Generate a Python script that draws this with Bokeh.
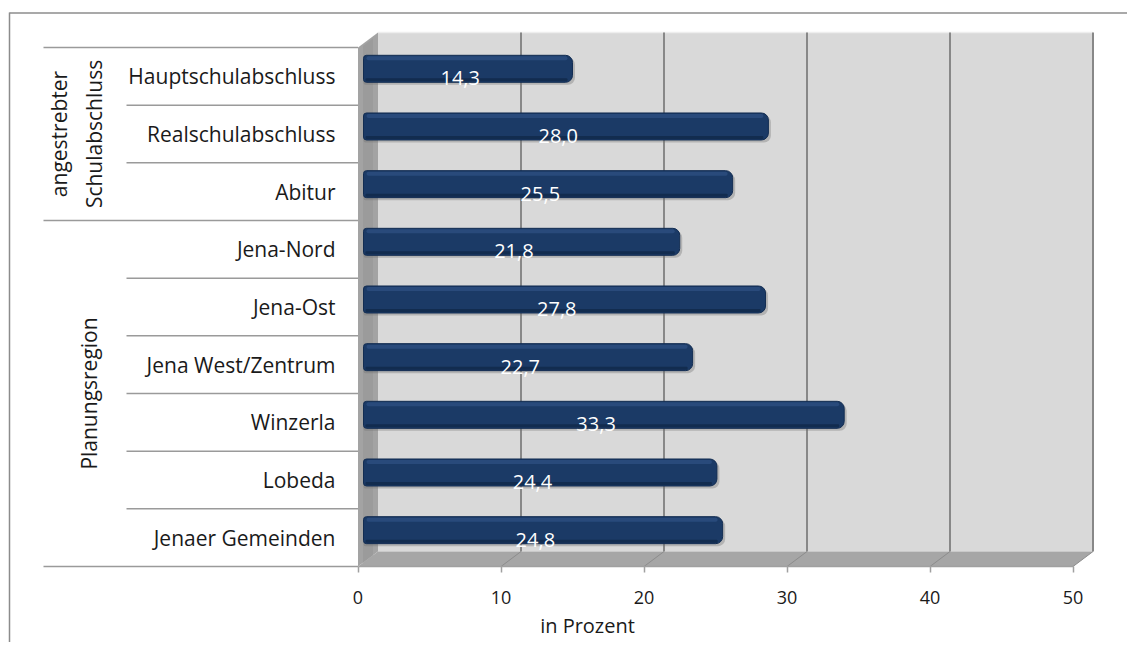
import math
from bokeh.plotting import figure
from bokeh.models import Range1d, LinearAxis, FixedTicker
from bokeh.core.properties import value
from bokeh.embed import file_html
from bokeh.resources import INLINE

# ---------------- data ----------------
categories = ["Hauptschulabschluss", "Realschulabschluss", "Abitur",
              "Jena-Nord", "Jena-Ost", "Jena West/Zentrum", "Winzerla",
              "Lobeda", "Jenaer Gemeinden"]
values = [14.3, 28.0, 25.5, 21.8, 27.8, 22.7, 33.3, 24.4, 24.8]
groups = ["angestrebter\nSchulabschluss", "Planungsregion"]
group_sizes = [3, 6]
x_ticks = [0, 10, 20, 30, 40, 50]
x_title = "in Prozent"

# ---------------- layout (pixels) ----------------
W, H = 1127, 642
PX = 14.3            # pixels per percent
RH = 57.67           # pixels per category row
X0 = 357.5           # x of value 0 (front plane)
Y0 = 566.0           # y of front axis line
DX = 20.0 / PX       # 3D depth offset (x)
DY = 15.0 / RH       # 3D depth offset (y)
FONT = "Open Sans"
MAXV = 50


def vx(px):
    return (px - X0) / PX


def vy(py):
    return (Y0 - py) / RH


n = len(categories)

p = figure(width=W, height=H, output_backend="svg", toolbar_location=None,
           x_range=Range1d(vx(0), vx(W)), y_range=Range1d(vy(H), vy(0)),
           x_axis_location=None, y_axis_location=None, title=None,
           min_border=0, min_border_left=0, min_border_right=0,
           min_border_top=0, min_border_bottom=0)
p.outline_line_color = None
p.background_fill_color = "white"
p.border_fill_color = "white"
p.xgrid.visible = False
p.ygrid.visible = False

# outer chart border (left and top)
p.line(x=[vx(9), vx(9)], y=[vy(12), vy(H + 5)], line_color="#8c8c8c", line_width=1.5)
p.line(x=[vx(9), vx(W + 5)], y=[vy(12.5), vy(12.5)], line_color="#8c8c8c", line_width=1.5)

# 3D walls
top = vy(47)
p.patch(x=[DX, MAXV + DX, MAXV + DX, DX], y=[DY, DY, top + DY, top + DY],
        fill_color="#d9d9d9", line_color=None)
p.line(x=[DX, MAXV + DX], y=[top + DY, top + DY], line_color="#eeeeee", line_width=1.5)
p.patch(x=[0, DX, DX, 0], y=[top, top + DY, DY, 0],
        fill_color="#a3a3a3", line_color=None)
p.patch(x=[0.25 * DX, 0.75 * DX, 0.75 * DX, 0.25 * DX],
        y=[top + 0.1 * DY, top + 0.6 * DY, 0.6 * DY, 0.1 * DY],
        fill_color="#969696", line_color=None, fill_alpha=0.6)
p.patch(x=[0, DX, MAXV + DX, MAXV], y=[0, DY, DY, 0],
        fill_color="#a6a6a6", line_color=None)

# gridlines on back wall and floor
for t in x_ticks[1:]:
    p.line(x=[t + DX, t + DX], y=[DY, top + DY], line_color="#888888", line_width=2)
    p.line(x=[t, t + DX], y=[0, DY], line_color="#8c8c8c", line_width=1)

# category separators
bounds = [n]
for s in group_sizes:
    bounds.append(bounds[-1] - s)
for b in bounds:
    p.line(x=[vx(43), 0], y=[b, b], line_color="#9a9a9a", line_width=1.5)
for r in range(1, n):
    if r not in bounds:
        p.line(x=[vx(126), 0], y=[r, r], line_color="#9a9a9a", line_width=1.5)

# category labels
ys = [n - 0.5 - i for i in range(n)]
p.text(x=[vx(335)] * n, y=ys, text=categories, text_align="right",
       text_baseline="middle", text_font=value(FONT), text_font_size="21px",
       text_color="#1a1a1a")

# group labels (rotated)
gx, gy = [], []
for gi, g in enumerate(groups):
    hi, lo = bounds[gi], bounds[gi + 1]
    gy.append((hi + lo) / 2)
    gx.append(vx(75.5) if "\n" in g else vx(88))
p.text(x=gx, y=gy, text=groups, angle=math.pi / 2, text_align="center",
       text_baseline="middle", text_font=value(FONT), text_font_size="21px",
       text_color="#1a1a1a", text_line_height=1.25)

# bars (at mid depth)
left = vx(363)
bar_y = [y + DY / 2 for y in ys]
bar_h = 27.0 / RH
rights = [v + DX / 2 for v in values]
p.hbar(y=[y - 2.5 / RH for y in bar_y], height=bar_h, left=left,
       right=[r + 2.5 / PX for r in rights], fill_color="#6e6e6e",
       fill_alpha=0.35, line_color=None, border_radius=(2, 7, 7, 2))
p.hbar(y=bar_y, height=bar_h, left=left, right=rights, fill_color="#1b3a66",
       line_color="#132d52", line_width=1, border_radius=(3, 7, 7, 3))
p.hbar(y=[y + 10.5 / RH for y in bar_y], height=4 / RH, left=left + 3 / PX,
       right=[r - 5 / PX for r in rights], fill_color="#34588c",
       fill_alpha=0.55, line_color=None, border_radius=2)
p.hbar(y=[y - 11 / RH for y in bar_y], height=3 / RH, left=left + 2 / PX,
       right=[r - 5 / PX for r in rights], fill_color="#0e2340",
       fill_alpha=0.6, line_color=None, border_radius=1)

# value labels
labels = [f"{v:.1f}".replace(".", ",") for v in values]
p.text(x=[v / 2 for v in values], y=[y - 2.0 / RH for y in ys], text=labels,
       text_align="center", text_baseline="middle", text_font=value(FONT),
       text_font_size="20px", text_color="white")

# x axis (front edge of floor)
ax = LinearAxis(fixed_location=0, bounds=(0, MAXV), ticker=FixedTicker(ticks=x_ticks))
ax.axis_line_color = "#a0a0a0"
ax.axis_line_width = 1.5
ax.major_tick_line_color = "#a0a0a0"
ax.major_tick_line_width = 1.5
ax.major_tick_out = 6
ax.major_tick_in = 0
ax.minor_tick_line_color = None
ax.major_label_text_font = FONT
ax.major_label_text_font_size = "18px"
ax.major_label_text_color = "#1a1a1a"
ax.major_label_standoff = 18
p.add_layout(ax, "below")

# axis title
p.text(x=[vx(587)], y=[vy(625)], text=[x_title], text_align="center",
       text_baseline="middle", text_font=value(FONT), text_font_size="20px",
       text_color="#1a1a1a")

open("out.html", "w").write(file_html(p, INLINE))
